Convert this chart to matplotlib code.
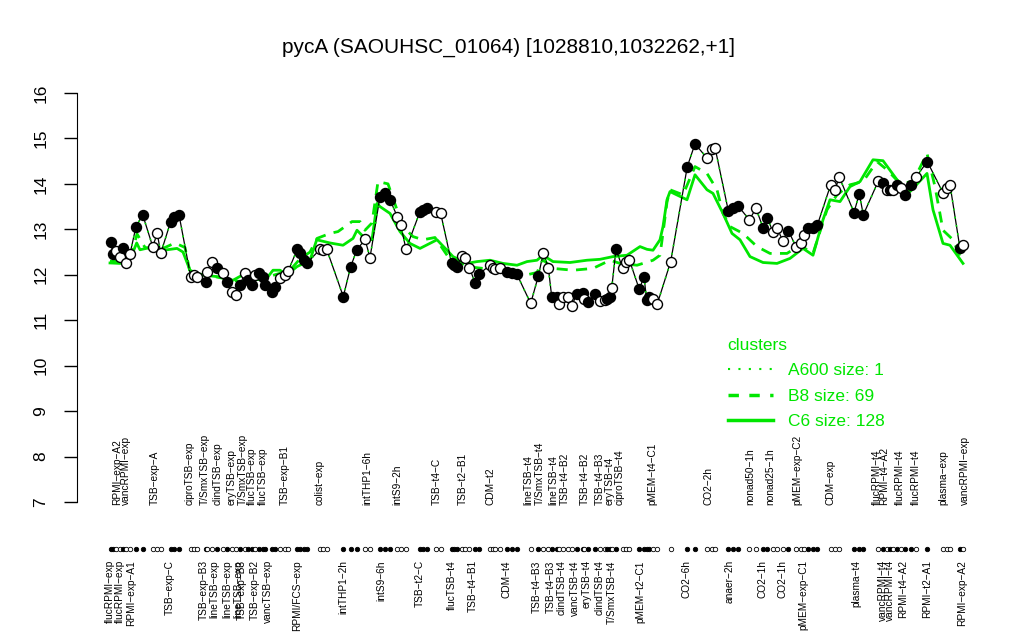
"""Expression profile of pycA with cluster mean profiles."""

import matplotlib
matplotlib.use("Agg")
import matplotlib.pyplot as plt
from matplotlib.lines import Line2D

plt.rcParams["font.family"] = ["Liberation Sans", "DejaVu Sans"]

GREEN = "#00e600"

# sample positions along the profile, log2 expression, filled (1) / open (0)
sample_pos = [
    110.7, 113, 116, 120, 122.7, 126, 130, 136, 142.7,
    152.7, 157.3, 160.7,
    170.7, 174, 179,
    190.7, 194, 196.7,
    206, 207.3, 211.7, 216.7, 222.7, 226.7, 231.7, 236, 240, 245, 248.3, 251.7,
    255, 259.3, 263.3, 265, 271.7, 275, 280, 285, 288.3,
    297.3, 300, 304, 306.7,
    320, 323.3, 326.7,
    343.3, 350.7, 356.7,
    365, 370,
    380, 385, 390,
    397.3, 400.7, 406,
    420, 423, 426.7,
    436, 440.7,
    451.7, 454, 456.7, 461.7, 465, 469.3, 475, 479.3,
    490, 493, 495, 500, 506.7, 511.7, 516.7,
    530.7,
    538.3, 543.3, 548.3, 551.7, 556.7, 559.3, 562.7, 568.3, 571.7, 576.7,
    583.3, 584, 588.3, 595, 600, 605, 607.3, 610, 611.7,
    616, 622.7, 626, 629.3,
    639.3, 644, 646.7, 649, 652.7, 657.3,
    670.7,
    687.3, 695,
    707.3, 711.7, 715,
    728.3, 733.3, 738.3,
    749.3, 756, 763.3, 767.3, 772.7, 777.3, 782.7, 788.3,
    796, 800.7, 804, 808.3, 812.7, 817.3,
    830.7, 835, 839.3,
    854, 859.3, 863.3,
    878.3, 883.3, 886.7, 890, 892.7, 896.7, 900.7, 905, 910.7, 916,
    927.3,
    943.3, 946.7, 950,
    960, 963.3,
]
expression = [
    12.73, 12.45, 12.52, 12.40, 12.58, 12.25, 12.46, 13.06, 13.32,
    12.62, 12.91, 12.47,
    13.17, 13.28, 13.32,
    11.96, 12.00, 11.96,
    11.85, 12.07, 12.29, 12.14, 12.03, 11.85, 11.63, 11.55, 11.77, 12.05, 11.88, 11.77,
    11.99, 12.03, 11.96, 11.77, 11.63, 11.74, 11.92, 12.00, 12.09,
    12.56, 12.47, 12.32, 12.25,
    12.56, 12.55, 12.56,
    11.52, 12.18, 12.54,
    12.78, 12.38,
    13.72, 13.79, 13.65,
    13.28, 13.10, 12.56,
    13.39, 13.42, 13.46,
    13.39, 13.35,
    12.25, 12.22, 12.18, 12.41, 12.38, 12.16, 11.83, 12.02,
    12.21, 12.15, 12.12, 12.14, 12.07, 12.03, 12.02,
    11.37,
    11.97, 12.48, 12.16, 11.52, 11.52, 11.36, 11.52, 11.50, 11.31, 11.58,
    11.61, 11.46, 11.39, 11.58, 11.43, 11.45, 11.46, 11.50, 11.70,
    12.56, 12.14, 12.29, 12.33,
    11.68, 11.96, 11.44, 11.50, 11.46, 11.36,
    12.29,
    14.38, 14.88,
    14.56, 14.76, 14.80,
    13.41, 13.46, 13.51,
    13.21, 13.46, 13.02, 13.26, 12.95, 13.02, 12.75, 12.97,
    12.62, 12.71, 12.88, 13.02, 13.04, 13.09,
    13.98, 13.87, 14.15,
    13.37, 13.78, 13.32,
    14.06, 14.03, 13.87, 13.87, 13.87, 13.98, 13.90, 13.76, 13.98, 14.15,
    14.49,
    13.79, 13.90, 13.98,
    12.58, 12.65,
]
filled = [
    1, 1, 0, 0, 1, 0, 0, 1, 1,
    0, 0, 0,
    1, 1, 1,
    0, 0, 0,
    1, 0, 0, 1, 0, 1, 0, 0, 1, 0, 1, 1,
    0, 1, 1, 1, 1, 1, 0, 0, 0,
    1, 1, 1, 1,
    0, 0, 0,
    1, 1, 1,
    0, 0,
    1, 1, 1,
    0, 0, 0,
    1, 1, 1,
    0, 0,
    1, 1, 1, 0, 0, 0, 1, 1,
    0, 0, 0, 0, 1, 1, 1,
    0,
    1, 0, 0, 1, 1, 0, 0, 0, 0, 1,
    1, 0, 1, 1, 0, 0, 1, 1, 0,
    1, 0, 0, 0,
    1, 1, 1, 1, 0, 0,
    0,
    1, 1,
    0, 0, 0,
    1, 1, 1,
    0, 0, 1, 1, 0, 0, 0, 1,
    0, 0, 0, 1, 1, 1,
    0, 0, 0,
    1, 1, 1,
    0, 1, 0, 1, 0, 1, 0, 1, 1, 0,
    1,
    0, 0, 0,
    1, 0,
]

# cluster mean profiles
c6_pos = [
    110, 120, 128, 133, 136.7, 140, 150, 160, 167, 177, 183, 190, 200, 217, 233,
    243, 255, 267, 273, 280, 287, 297, 310, 316.7, 330, 343, 353, 357, 365, 372,
    377, 380, 390, 400, 410, 420, 437, 447, 453, 467, 477, 490, 503, 517, 527,
    537, 543, 553, 570, 587, 600, 613, 627, 640, 647, 653, 660, 663, 667, 670,
    687, 695, 707, 713, 723, 732, 740, 750, 763, 777, 790, 803, 813, 823, 830,
    840, 850, 860, 873, 883, 897, 910, 927, 933, 943, 950, 963,
]
c6_mean = [
    12.26, 12.25, 12.30, 12.50, 12.70, 12.55, 12.60, 12.50, 12.55, 12.58, 12.50, 12.10, 12.00, 11.96, 11.88,
    12.00, 11.95, 11.93, 12.10, 12.10, 12.00, 12.18, 12.32, 12.77, 12.70, 12.65, 12.80, 12.98, 12.80, 12.77,
    13.57, 13.50, 13.35, 12.95, 12.69, 12.58, 12.77, 12.54, 12.40, 12.25, 12.29, 12.32, 12.25, 12.21, 12.29,
    12.32, 12.43, 12.29, 12.27, 12.32, 12.34, 12.40, 12.43, 12.62, 12.56, 12.54, 12.77, 13.06, 13.65, 13.83,
    13.65, 14.20, 13.87, 13.79, 13.35, 12.91, 12.77, 12.40, 12.27, 12.25, 12.36, 12.58, 12.43, 13.21, 13.65,
    13.61, 13.94, 14.05, 14.53, 14.51, 14.09, 13.83, 14.23, 13.43, 12.69, 12.65, 12.25,
]
b8_pos = [
    110, 125, 133, 137, 145, 160, 175, 185, 190, 217, 240, 260, 275, 290, 300,
    310, 317, 330, 338, 352, 360, 365, 372, 378, 388, 393, 403, 413, 423, 435,
    448, 457, 467, 483, 497, 510, 527, 537, 543, 553, 573, 593, 610, 620, 637,
    653, 660, 663, 667, 670, 683, 695, 707, 717, 723, 730, 743, 757, 770, 787,
    800, 813, 827, 837, 850, 863, 877, 887, 900, 913, 927, 935, 943, 953, 963,
]
b8_mean = [
    12.30, 12.30, 12.55, 12.90, 12.60, 12.55, 12.70, 12.60, 12.05, 11.95, 11.85, 11.90, 12.00, 12.10, 12.35,
    12.50, 12.80, 12.91, 12.95, 13.17, 13.17, 12.98, 13.14, 14.05, 14.00, 13.68, 13.06, 12.84, 12.77, 12.82,
    12.40, 12.32, 12.18, 12.14, 12.10, 12.03, 12.00, 12.05, 12.33, 12.14, 12.10, 12.14, 12.32, 12.25, 12.21,
    12.32, 12.43, 12.92, 13.60, 13.87, 13.76, 14.38, 14.23, 13.87, 13.35, 13.06, 12.91, 12.62, 12.47, 12.47,
    12.65, 12.47, 13.43, 13.76, 13.98, 14.05, 14.49, 14.31, 14.01, 14.05, 14.67, 13.94, 12.98, 12.77, 12.25,
]

# sample labels (alternating rows above / below the sample strip)
top_label_pos = [
    117, 126, 155, 190, 205, 218, 232, 243, 252, 263, 285, 320, 367, 397, 437,
    463, 490, 528, 540, 553, 565, 585, 600, 610, 620, 652, 708, 750, 770, 797,
    830, 877, 884, 900, 916, 943, 965,
]
top_labels = [
    "RPMI\u2212exp\u2212A2", "vancRPMI\u2212exp", "TSB\u2212exp\u2212A", "ciproTSB\u2212exp",
    "T/SmxTSB\u2212exp", "clindTSB\u2212exp", "eryTSB\u2212exp", "T/SmxTSB\u2212exp",
    "flucTSB\u2212exp", "flucTSB\u2212exp", "TSB\u2212exp\u2212B1", "colist\u2212exp",
    "intTHP1\u22126h", "intS9\u22122h", "TSB\u2212t4\u2212C", "TSB\u2212t2\u2212B1", "CDM\u2212t2",
    "lineTSB\u2212t4", "T/SmxTSB\u2212t4", "lineTSB\u2212t4", "TSB\u2212t4\u2212B2",
    "TSB\u2212t4\u2212B2", "TSB\u2212t4\u2212B3", "eryTSB\u2212t4", "ciproTSB\u2212t4",
    "pMEM\u2212t4\u2212C1", "CO2\u22122h", "nonad50\u22121h", "nonad25\u22121h",
    "pMEM\u2212exp\u2212C2", "CDM\u2212exp", "flucRPMI\u2212t4", "RPMI\u2212t4\u2212A2",
    "flucRPMI\u2212t4", "flucRPMI\u2212t4", "plasma\u2212exp", "vancRPMI\u2212exp",
]
bottom_label_pos = [
    110, 120, 131, 170, 204, 214, 227, 238, 242, 255, 268, 297, 343, 381, 420,
    452, 473, 507, 537, 551, 562, 575, 587, 600, 612, 640, 687, 730, 763, 783,
    803, 856, 883, 890, 903, 927, 962,
]
bottom_labels = [
    "flucRPMI\u2212exp", "flucRPMI\u2212exp", "RPMI\u2212exp\u2212A1", "TSB\u2212exp\u2212C",
    "TSB\u2212exp\u2212B3", "lineTSB\u2212exp", "lineTSB\u2212exp", "lineTSB\u2212exp",
    "TSB\u2212exp\u2212B3", "TSB\u2212exp\u2212B2", "vancTSB\u2212exp", "RPMI/FCS\u2212exp",
    "intTHP1\u22122h", "intS9\u22126h", "TSB\u2212t2\u2212C", "flucTSB\u2212t4", "TSB\u2212t4\u2212B1",
    "CDM\u2212t4", "TSB\u2212t4\u2212B3", "TSB\u2212t4\u2212B3", "clindTSB\u2212t4",
    "vancTSB\u2212t4", "eryTSB\u2212t4", "clindTSB\u2212t4", "T/SmxTSB\u2212t4",
    "pMEM\u2212t2\u2212C1", "CO2\u22126h", "anaer\u22122h", "CO2\u22121h", "CO2\u22121h",
    "pMEM\u2212exp\u2212C1", "plasma\u2212t4", "vancRPMI\u2212t4", "vancRPMI\u2212t4",
    "RPMI\u2212t4\u2212A2", "RPMI\u2212t2\u2212A1", "RPMI\u2212exp\u2212A2",
]

legend_labels = ["A600 size: 1", "B8 size: 69", "C6 size: 128"]


def main() -> None:
    fig = plt.figure(figsize=(10.24, 6.4), dpi=100)
    ax = fig.add_axes([77 / 1024, 1 - 518.4 / 640, 913 / 1024, 441.8 / 640])
    ax.set_xlim(77, 990)
    ax.set_ylim(6.64, 16.36)

    ax.plot(c6_pos, c6_mean, color=GREEN, lw=2.0, solid_joinstyle="round", zorder=2)
    ax.plot(b8_pos, b8_mean, color=GREEN, lw=2.0, ls=(0, (4, 3)), zorder=2)
    ax.plot(sample_pos, expression, color="black", lw=0.9, zorder=3)
    ax.plot(sample_pos, expression, color=GREEN, lw=1.2, ls=(0, (1, 4)), zorder=3)

    for x, y, f in zip(sample_pos, expression, filled):
        face = "black" if f else "white"
        ax.plot(x, y, "o", ms=7.2, mfc=face, mec="black", mew=1.0, zorder=4)
        ax.plot(x, 5.96, "o", ms=3.2, mfc=face, mec="black", mew=0.6,
                zorder=4, clip_on=False)

    for x, lab in zip(top_label_pos, top_labels):
        ax.text(x, 6.93, lab, rotation=90, ha="center", va="bottom", fontsize=7.3)
    for x, lab in zip(bottom_label_pos, bottom_labels):
        ax.text(x, 5.72, lab, rotation=90, ha="center", va="top", fontsize=7.3)

    for side in ("top", "right", "bottom"):
        ax.spines[side].set_visible(False)
    ax.spines["left"].set_bounds(7, 16)
    ax.set_xticks([])
    ax.set_yticks(range(7, 17))
    ax.tick_params(axis="y", length=9.5, width=1.0, labelsize=12.5, pad=11)
    for t in ax.get_yticklabels():
        t.set_rotation(90)
        t.set_va("center")

    handles = [
        Line2D([], [], color=GREEN, lw=1.5, ls=(0, (1, 4))),
        Line2D([], [], color=GREEN, lw=2.5, ls=(0, (3, 3))),
        Line2D([], [], color=GREEN, lw=2.5),
    ]
    leg = ax.legend(handles, legend_labels, title="clusters", loc="upper left",
                    bbox_to_anchor=(712 / 1024, 1 - 322 / 640),
                    bbox_transform=fig.transFigure, frameon=False,
                    fontsize=12.5, title_fontsize=12.5, labelcolor=GREEN,
                    handlelength=2.6, handletextpad=0.9, labelspacing=0.6,
                    alignment="left")
    leg.get_title().set_color(GREEN)

    fig.text(508 / 1024, 1 - 47 / 640, "pycA (SAOUHSC_01064) [1028810,1032262,+1]",
             ha="center", va="center", fontsize=15)

    fig.savefig("out.png", dpi=100)


if __name__ == "__main__":
    main()
